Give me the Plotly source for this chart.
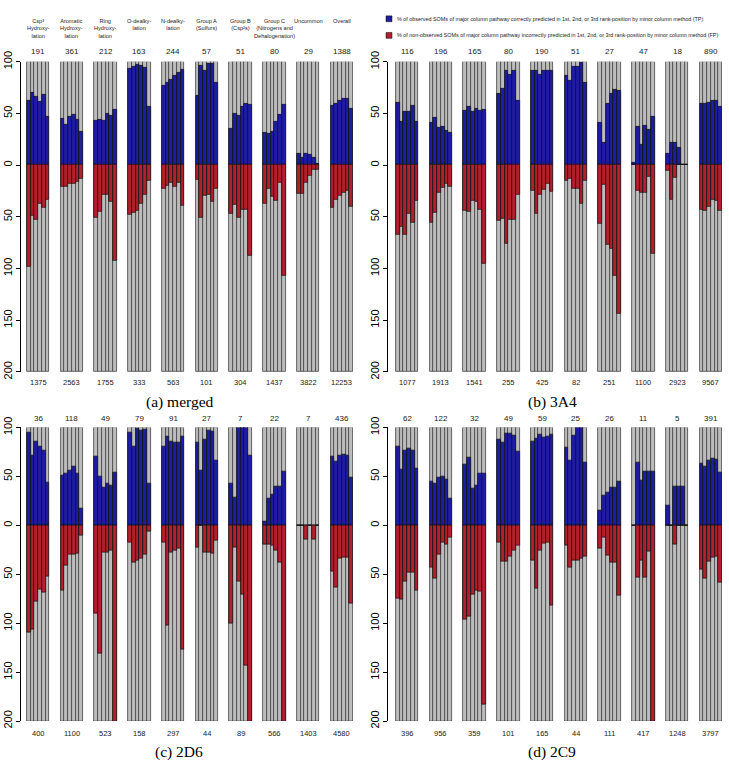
import plotly.graph_objects as go

# ---------------- data ----------------
categories = ["Csp³<br>Hydroxy-<br>lation", "Aromatic<br>Hydroxy-<br>lation", "Ring<br>Hydroxy-<br>lation",
              "O-dealky-<br>lation", "N-dealky-<br>lation", "Group A<br>(Sulfurs)", "Group B<br>(Csp²s)",
              "Group C<br>(Nitrogens and<br>Dehalogenation)", "Uncommon", "Overall"]

legend_tp = "% of observed SOMs of major column pathway correctly predicted in 1st, 2nd, or 3rd rank-position by minor column method (TP)"
legend_fp = "% of non-observed SOMs of major column pathway incorrectly predicted in 1st, 2nd, or 3rd rank-position by minor column method (FP)"

panel_titles = ["(a) merged", "(b) 3A4", "(c) 2D6", "(d) 2C9"]

merged_top = [191, 361, 212, 163, 244, 57, 51, 80, 29, 1388]
merged_bottom = [1375, 2563, 1755, 333, 563, 101, 304, 1437, 3822, 12253]
merged_tp = [[62, 70, 66, 61, 68, 47], [45, 39, 47, 49, 44, 32], [43, 44, 43, 50, 48, 54],
             [93, 95, 97, 96, 94, 56], [77, 80, 83, 86, 89, 92], [67, 96, 91, 98, 98, 80],
             [35, 50, 48, 56, 59, 58], [31, 30, 32, 42, 49, 58], [11, 7, 11, 10, 7, 1],
             [57, 59, 62, 64, 64, 55]]
merged_fp = [[98, 49, 53, 37, 41, 33], [21, 21, 18, 18, 16, 13], [51, 45, 29, 29, 35, 92],
             [48, 46, 44, 37, 29, 15], [23, 20, 17, 21, 17, 39], [14, 51, 30, 29, 35, 23],
             [47, 38, 51, 43, 43, 88], [37, 23, 31, 34, 17, 107], [28, 28, 17, 10, 4, 4],
             [41, 33, 30, 27, 25, 40]]

cyp3a4_top = [116, 196, 165, 80, 190, 51, 27, 47, 18, 890]
cyp3a4_bottom = [1077, 1913, 1541, 255, 425, 82, 251, 1100, 2923, 9567]
cyp3a4_tp = [[60, 42, 52, 52, 57, 42], [41, 46, 36, 37, 33, 31], [53, 56, 52, 55, 53, 54],
             [69, 74, 91, 87, 91, 62], [91, 91, 87, 91, 91, 91], [86, 82, 95, 95, 99, 80],
             [41, 22, 59, 69, 73, 72], [2, 37, 20, 38, 34, 47], [11, 22, 22, 17, 0, 0],
             [59, 59, 60, 62, 62, 56]]
cyp3a4_fp = [[67, 60, 67, 47, 56, 34], [56, 46, 27, 22, 18, 21], [44, 45, 34, 35, 43, 95],
             [54, 52, 76, 53, 53, 29], [25, 47, 29, 24, 18, 26], [15, 13, 23, 23, 37, 15],
             [57, 19, 77, 81, 107, 144], [0, 25, 27, 27, 11, 86], [5, 33, 12, 0, 0, 0],
             [43, 44, 40, 33, 34, 44]]

cyp2d6_top = [36, 118, 49, 79, 91, 27, 7, 22, 7, 436]
cyp2d6_bottom = [400, 1100, 523, 158, 297, 44, 89, 566, 1403, 4580]
cyp2d6_tp = [[95, 71, 86, 81, 77, 44], [51, 53, 56, 60, 53, 17], [70, 50, 39, 43, 41, 54],
             [95, 81, 99, 97, 98, 43], [81, 91, 86, 85, 85, 91], [85, 56, 88, 97, 96, 66],
             [43, 28, 100, 100, 100, 71], [4, 27, 32, 40, 40, 55], [0, 0, 0, 0, 0, 0],
             [70, 65, 71, 72, 71, 49]]
cyp2d6_fp = [[109, 106, 78, 66, 69, 52], [67, 41, 30, 30, 29, 10], [90, 131, 28, 28, 26, 200],
             [18, 38, 36, 34, 30, 6], [18, 102, 28, 26, 24, 127], [23, 0, 28, 28, 29, 15],
             [100, 23, 57, 71, 143, 200], [20, 20, 21, 26, 38, 200], [0, 0, 14, 0, 14, 0],
             [47, 63, 34, 33, 33, 80]]

cyp2c9_top = [62, 122, 32, 49, 59, 25, 26, 11, 5, 391]
cyp2c9_bottom = [396, 956, 359, 101, 165, 44, 111, 417, 1248, 3797]
cyp2c9_tp = [[81, 57, 76, 79, 76, 58], [45, 43, 49, 50, 47, 27], [62, 69, 38, 41, 53, 53],
             [88, 85, 94, 94, 92, 75], [86, 89, 93, 90, 91, 93], [80, 66, 92, 100, 100, 64],
             [15, 31, 34, 39, 39, 45], [0, 64, 46, 55, 55, 55], [20, 0, 40, 40, 40, 0],
             [63, 60, 66, 68, 67, 54]]
cyp2c9_fp = [[75, 76, 57, 48, 48, 67], [43, 54, 30, 18, 20, 12], [96, 93, 71, 67, 68, 183],
             [17, 37, 37, 32, 26, 21], [36, 65, 26, 19, 17, 82], [21, 43, 36, 36, 34, 32],
             [24, 12, 31, 38, 38, 72], [0, 53, 36, 53, 27, 200], [0, 0, 20, 0, 0, 0],
             [45, 54, 37, 33, 32, 58]]

# ---------------- layout helpers ----------------
W, H = 729, 772
GROUP_STEP = 9
NB = 6
GREY, BLUE, RED, EDGE = "#bcbcbc", "#1d1da3", "#b21f2d", "#444444"


def fx(p):
    return p / W


def fy(p):
    return 1 - p / H


panels = [
    dict(ax=21, bx0=27, bx1=353, yt=52, yb=370, ytop=42, ybot=381, yti=401, xti=180,
         tp=merged_tp, fp=merged_fp, top=merged_top, bot=merged_bottom),
    dict(ax=388, bx0=396, bx1=722, yt=52, yb=370, ytop=42, ybot=381, yti=401, xti=552,
         tp=cyp3a4_tp, fp=cyp3a4_fp, top=cyp3a4_top, bot=cyp3a4_bottom),
    dict(ax=21, bx0=27, bx1=353, yt=427, yb=728, ytop=418, ybot=741, yti=760, xti=179,
         tp=cyp2d6_tp, fp=cyp2d6_fp, top=cyp2d6_top, bot=cyp2d6_bottom),
    dict(ax=388, bx0=396, bx1=722, yt=427, yb=728, ytop=418, ybot=741, yti=760, xti=552,
         tp=cyp2c9_tp, fp=cyp2c9_fp, top=cyp2c9_top, bot=cyp2c9_bottom),
]

fig = go.Figure()
annotations = []
shapes = []
layout_axes = {}

xmax = (len(categories) - 1) * GROUP_STEP + NB - 0.5
for k, p in enumerate(panels):
    sfx = "" if k == 0 else str(k + 1)
    xa, ya = "x" + sfx, "y" + sfx
    unit = (p["bx1"] - p["bx0"]) / (xmax + 0.5)
    xmin = -0.5 - (p["bx0"] - p["ax"]) / unit
    xs = [g * GROUP_STEP + j for g in range(len(categories)) for j in range(NB)]
    tp = [v for grp in p["tp"] for v in grp]
    fp = [-v for grp in p["fp"] for v in grp]
    fig.add_trace(go.Bar(x=xs, y=[300] * len(xs), base=-200, width=1, marker=dict(color=GREY, line=dict(color=EDGE, width=0.8)),
                         xaxis=xa, yaxis=ya, showlegend=False, hoverinfo="skip"))
    fig.add_trace(go.Bar(x=xs, y=tp, base=0, width=1, marker=dict(color=BLUE, line=dict(color="#111", width=0.7)),
                         xaxis=xa, yaxis=ya, showlegend=False))
    fig.add_trace(go.Bar(x=xs, y=fp, base=0, width=1, marker=dict(color=RED, line=dict(color="#111", width=0.7)),
                         xaxis=xa, yaxis=ya, showlegend=False))

    layout_axes["xaxis" + sfx] = dict(domain=[fx(p["ax"]), fx(p["bx1"])], range=[xmin, xmax],
                                      visible=False, anchor=ya, fixedrange=True)
    layout_axes["yaxis" + sfx] = dict(domain=[fy(p["yb"]), fy(p["yt"])], range=[-200, 100], anchor=xa,
                                      tickvals=[100, 50, 0, -50, -100, -150, -200],
                                      ticktext=["100", "50", "0", "50", "100", "150", "200"],
                                      tickangle=-90, ticks="outside", ticklen=4, tickwidth=1, tickcolor="black",
                                      showline=True, linecolor="black", linewidth=1, showgrid=False, zeroline=False,
                                      tickfont=dict(family="Liberation Sans", size=11, color="black"))

    for g in range(len(categories)):
        cx = g * GROUP_STEP + (NB - 1) / 2
        annotations.append(dict(x=cx, xref=xa, y=fy(p["ytop"]), yref="paper", text=str(p["top"][g]),
                                showarrow=False, font=dict(family="Liberation Sans", size=8, color="#222"),
                                xanchor="center", yanchor="middle"))
        annotations.append(dict(x=cx, xref=xa, y=fy(p["ybot"]), yref="paper", text=str(p["bot"][g]),
                                showarrow=False, font=dict(family="Liberation Sans", size=7.5, color="#222"),
                                xanchor="center", yanchor="middle"))
        if k == 0:
            annotations.append(dict(x=cx, xref=xa, y=fy(5), yref="paper", text=categories[g],
                                    showarrow=False, font=dict(family="Liberation Sans", size=5.6, color="#222"),
                                    xanchor="center", yanchor="top"))
    annotations.append(dict(x=fx(p["xti"]), xref="paper", y=fy(p["yti"]), yref="paper", text=panel_titles[k],
                            showarrow=False, font=dict(family="Liberation Serif", size=15.5, color="black"),
                            xanchor="center", yanchor="middle"))

# legend (top of panel b)
for txt, col, yc in [(legend_tp, BLUE, 8), (legend_fp, RED, 25)]:
    shapes.append(dict(type="rect", xref="paper", yref="paper", x0=fx(386), x1=fx(392), y0=fy(yc + 3), y1=fy(yc - 3),
                       fillcolor=col, line=dict(color="#111", width=0.5)))
    annotations.append(dict(x=fx(394.5), xref="paper", y=fy(yc), yref="paper", text=txt, showarrow=False,
                            font=dict(family="Liberation Sans", size=5.4, color="#222"),
                            xanchor="left", yanchor="middle"))

fig.update_layout(width=W, height=H, margin=dict(l=0, r=0, t=0, b=0), barmode="overlay",
                  paper_bgcolor="white", plot_bgcolor="white", annotations=annotations, shapes=shapes,
                  bargap=0, **layout_axes)

fig.write_html("out.html", config={"displayModeBar": False},
               post_script="document.body.style.margin='0';document.body.style.overflow='hidden';")
